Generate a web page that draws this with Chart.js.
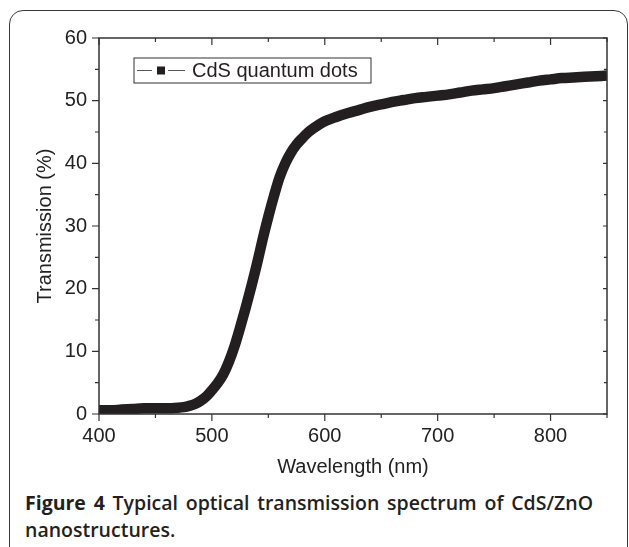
<!DOCTYPE html>
<html>
<head>
<meta charset="utf-8">
<script src="https://cdn.jsdelivr.net/npm/chart.js@4/dist/chart.umd.min.js"></script>
<style>
html, body { margin: 0; padding: 0; background: #fff; overflow: hidden; }
body { width: 629px; height: 547px; position: relative; }
#frame { position: absolute; left: 9px; top: 10px; width: 617px; height: 600px; border: 1.5px solid #3a3a3a; border-radius: 14px; }
#wrap { position: absolute; left: 0; top: 0; width: 629px; height: 484px; }
#caption { position: absolute; left: 25px; top: 489px; width: 568px; font-family: "Open Sans", sans-serif; font-size: 19.5px; font-weight: 600; color: #231f20; line-height: 27px; }
#caption b { font-weight: 700; }
.l1 { text-align: justify; text-align-last: justify; white-space: nowrap; }
</style>
</head>
<body>
<div id="frame"></div>
<div id="wrap"><canvas id="chart" width="629" height="484"></canvas></div>
<div id="caption">
  <div class="l1"><b>Figure 4</b> Typical optical transmission spectrum of CdS/ZnO</div>
  <div>nanostructures.</div>
</div>
<script>
// wavelength (nm) and transmission (%)
const wavelength = [400, 410, 420, 430, 440, 450, 460, 470, 475, 480, 485, 490, 495, 500, 505, 510, 515, 520, 525, 530,
  535, 540, 545, 550, 555, 560, 565, 570, 575, 580, 585, 590, 595, 600, 610, 620, 630, 640, 650, 660,
  670, 680, 690, 700, 710, 720, 730, 740, 750, 760, 770, 780, 790, 800, 810, 820, 830, 840, 850];
const transmission = [0.6, 0.6, 0.7, 0.8, 0.9, 0.9, 0.9, 1.0, 1.1, 1.3, 1.6, 2.1, 2.8, 3.8, 4.9, 6.3, 8.3, 10.8, 13.8, 17.0,
  20.4, 24.0, 27.9, 31.5, 34.8, 37.8, 40.0, 41.7, 43.0, 44.0, 44.9, 45.6, 46.2, 46.7, 47.4, 48.0, 48.5, 49.0, 49.4, 49.8,
  50.1, 50.4, 50.6, 50.8, 51.0, 51.3, 51.6, 51.8, 52.0, 52.3, 52.6, 52.9, 53.2, 53.4, 53.6, 53.7, 53.8, 53.9, 54.0];

const xTicks = [400, 500, 600, 700, 800];
const xMinor = [450, 550, 650, 750, 850];
const yTicks = [0, 10, 20, 30, 40, 50, 60];
const yMinor = [5, 15, 25, 35, 45, 55];
const seriesLabel = 'CdS quantum dots';

const ink = '#231f20';
const tickFont = { family: '"Liberation Sans", Arial, sans-serif', size: 20 };

// box frame, ticks (out on left/bottom, in on top/right) and the boxed legend
const frameTicks = {
  id: 'frameTicks',
  afterDraw(chart) {
    const { ctx, chartArea: a, scales: { x, y } } = chart;
    ctx.save();
    ctx.strokeStyle = '#333';
    ctx.lineWidth = 1.5;
    ctx.strokeRect(a.left, a.top, a.right - a.left, a.bottom - a.top);

    ctx.lineWidth = 1.2;
    ctx.beginPath();
    xTicks.forEach(v => {
      const px = x.getPixelForValue(v);
      ctx.moveTo(px, a.bottom); ctx.lineTo(px, a.bottom + 7);
      ctx.moveTo(px, a.top); ctx.lineTo(px, a.top + 7);
    });
    xMinor.forEach(v => {
      const px = x.getPixelForValue(v);
      ctx.moveTo(px, a.bottom); ctx.lineTo(px, a.bottom + 4);
      ctx.moveTo(px, a.top); ctx.lineTo(px, a.top + 4);
    });
    yTicks.forEach(v => {
      const py = y.getPixelForValue(v);
      ctx.moveTo(a.left, py); ctx.lineTo(a.left - 7, py);
      ctx.moveTo(a.right, py); ctx.lineTo(a.right - 4, py);
    });
    yMinor.forEach(v => {
      const py = y.getPixelForValue(v);
      ctx.moveTo(a.left, py); ctx.lineTo(a.left - 4, py);
      ctx.moveTo(a.right, py); ctx.lineTo(a.right - 3, py);
    });
    ctx.stroke();

    // legend box
    const lx = a.left + 35, ly = a.top + 20, lw = 237, lh = 25;
    ctx.fillStyle = '#fff';
    ctx.fillRect(lx, ly, lw, lh);
    ctx.lineWidth = 1;
    ctx.strokeStyle = '#333';
    ctx.strokeRect(lx, ly, lw, lh);
    const cy = ly + lh / 2;
    ctx.strokeStyle = '#555';
    ctx.beginPath();
    ctx.moveTo(lx + 3, cy); ctx.lineTo(lx + 18, cy);
    ctx.moveTo(lx + 34, cy); ctx.lineTo(lx + 51, cy);
    ctx.stroke();
    ctx.fillStyle = ink;
    ctx.fillRect(lx + 23, cy - 4, 8, 8);
    ctx.font = '20px "Liberation Sans", Arial, sans-serif';
    ctx.textBaseline = 'middle';
    ctx.fillText(chart.data.datasets[0].label, lx + 58, cy + 1);
    ctx.restore();
  }
};

new Chart(document.getElementById('chart'), {
  type: 'line',
  data: {
    datasets: [{
      label: seriesLabel,
      data: wavelength.map((w, i) => ({ x: w, y: transmission[i] })),
      borderColor: ink,
      borderWidth: 10.5,
      borderJoinStyle: 'round',
      borderCapStyle: 'butt',
      pointRadius: 0,
      cubicInterpolationMode: 'monotone',
      fill: false
    }]
  },
  options: {
    responsive: false,
    animation: false,
    layout: { padding: { top: 38, right: 22, left: 0, bottom: 0 } },
    plugins: { legend: { display: false }, tooltip: { enabled: false } },
    scales: {
      x: {
        type: 'linear',
        min: 400,
        max: 850,
        afterFit: s => { s.height = 70; },
        afterBuildTicks: s => { s.ticks = xTicks.map(v => ({ value: v })); },
        grid: { display: false, drawTicks: false },
        border: { display: false },
        ticks: { color: '#222', font: tickFont, padding: 10, maxRotation: 0 },
        title: { display: true, text: 'Wavelength (nm)', color: '#222', font: tickFont, padding: { bottom: 5 } }
      },
      y: {
        min: 0,
        max: 60,
        afterFit: s => { s.width = 99; },
        afterBuildTicks: s => { s.ticks = yTicks.map(v => ({ value: v })); },
        grid: { display: false, drawTicks: false },
        border: { display: false },
        ticks: { color: '#222', font: tickFont, padding: 12 },
        title: { display: true, text: 'Transmission (%)', color: '#222', font: tickFont, padding: { top: 33 } }
      }
    }
  },
  plugins: [frameTicks]
});
</script>
</body>
</html>
